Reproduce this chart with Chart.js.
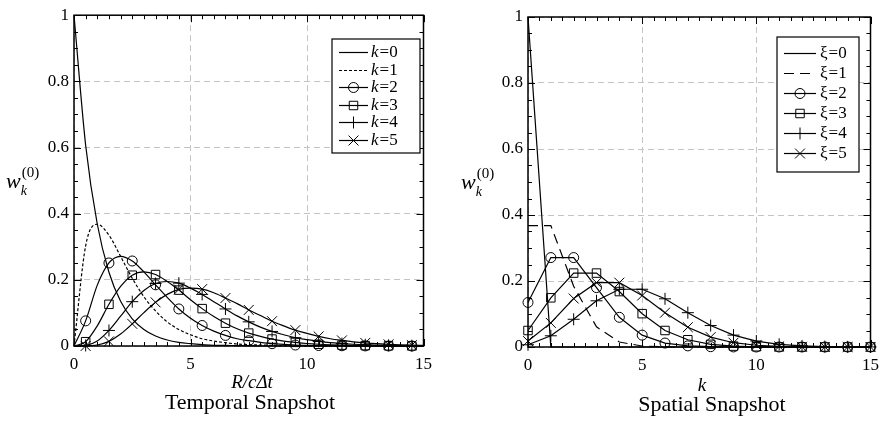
<!DOCTYPE html>
<html>
<head>
<meta charset="utf-8">
<script src="https://cdn.jsdelivr.net/npm/chart.js@4"></script>
<style>
html, body { margin: 0; padding: 0; background: #fff; }
#wrap { position: relative; width: 887px; height: 422px; }
#left { position: absolute; left: 0; top: 0; }
#right { position: absolute; left: 440px; top: 0; }
</style>
</head>
<body>
<div id="wrap">
  <canvas id="left" width="440" height="422"></canvas>
  <canvas id="right" width="447" height="422"></canvas>
</div>
<script>
// ---- Temporal snapshot: w_k vs R/c dt (step 0.5)
const tX = [0,0.5,1,1.5,2,2.5,3,3.5,4,4.5,5,5.5,6,6.5,7,7.5,8,8.5,9,9.5,10,10.5,11,11.5,12,12.5,13,13.5,14,14.5,15];
const tK0 = [1,0.607,0.368,0.223,0.135,0.082,0.050,0.030,0.018,0.011,0.007,0.004,0.002,0.002,0.001,0.001,0,0,0,0,0,0,0,0,0,0,0,0,0,0,0];
const tK1 = [0,0.303,0.368,0.335,0.271,0.205,0.149,0.106,0.073,0.050,0.034,0.022,0.015,0.010,0.006,0.004,0.003,0.002,0.001,0.001,0.0005,0,0,0,0,0,0,0,0,0,0];
const tK2 = [0,0.076,0.184,0.251,0.271,0.257,0.224,0.185,0.147,0.112,0.084,0.062,0.045,0.032,0.022,0.016,0.011,0.007,0.005,0.003,0.002,0.0015,0.001,0.0007,0.0004,0.0003,0.0002,0.0001,0,0,0];
const tK3 = [0,0.013,0.061,0.126,0.180,0.214,0.224,0.216,0.195,0.169,0.140,0.113,0.089,0.069,0.052,0.039,0.029,0.021,0.015,0.011,0.0076,0.0053,0.0037,0.0026,0.0018,0.0012,0.0008,0.0006,0.0004,0.0003,0.0002];
const tK4 = [0,0.0016,0.015,0.047,0.090,0.134,0.168,0.189,0.195,0.190,0.175,0.156,0.134,0.112,0.091,0.073,0.057,0.044,0.034,0.025,0.019,0.014,0.010,0.0074,0.0053,0.0038,0.0027,0.0019,0.0013,0.0009,0.0006];
const tK5 = [0,0.0002,0.003,0.014,0.036,0.067,0.101,0.132,0.156,0.171,0.175,0.172,0.161,0.145,0.128,0.109,0.092,0.075,0.061,0.048,0.038,0.029,0.022,0.017,0.0127,0.0095,0.0070,0.0051,0.0037,0.0027,0.0019];

// ---- Spatial snapshot: w_k vs k
const sK = [0,1,2,3,4,5,6,7,8,9,10,11,12,13,14,15];
const sXi0 = [1,0,0,0,0,0,0,0,0,0,0,0,0,0,0,0];
const sXi1 = [0.368,0.368,0.184,0.061,0.015,0.003,0.0005,0.0001,0,0,0,0,0,0,0,0];
const sXi2 = [0.135,0.271,0.271,0.180,0.090,0.036,0.012,0.0034,0.0009,0.0002,0,0,0,0,0,0];
const sXi3 = [0.050,0.149,0.224,0.224,0.168,0.101,0.050,0.022,0.008,0.0027,0.0008,0.0002,0.0001,0,0,0];
const sXi4 = [0.0067,0.034,0.084,0.140,0.175,0.175,0.146,0.104,0.065,0.036,0.018,0.0082,0.0034,0.0013,0.0005,0.0002];
const sXi5 = [0.018,0.073,0.147,0.195,0.195,0.156,0.104,0.060,0.030,0.013,0.0053,0.0019,0.0006,0.0002,0.0001,0];

const tLabels = ['0', '1', '2', '3', '4', '5'];
const sLabels = ['0', '1', '2', '3', '4', '5'];

const SERIF = "'Liberation Serif', 'Times New Roman', serif";
Chart.defaults.font.family = SERIF;
Chart.defaults.color = '#000';
const none = 'rgba(0,0,0,0)';

function series(label, xs, ys, extra) {
  return Object.assign({
    label: label,
    data: xs.map((x, i) => ({ x: x, y: ys[i] })),
    borderColor: '#000',
    borderWidth: 1.2,
    backgroundColor: none,
    pointBorderColor: '#000',
    pointBackgroundColor: none,
    pointBorderWidth: 1,
    pointRadius: 0,
    pointHoverRadius: 0,
    fill: false,
    clip: false
  }, extra);
}

// marker at half-integer positions only (temporal plot)
const halfOnly = r => ctx => (ctx.raw && Math.abs(ctx.raw.x % 1 - 0.5) < 1e-6) ? r : 0;

function drawMarker(ctx, style, r, x, y) {
  ctx.beginPath();
  if (style === 'circle') {
    ctx.arc(x, y, r, 0, Math.PI * 2);
  } else if (style === 'rect') {
    const s = r * Math.SQRT1_2;
    ctx.rect(x - s, y - s, 2 * s, 2 * s);
  } else if (style === 'cross') {
    ctx.moveTo(x - r, y); ctx.lineTo(x + r, y);
    ctx.moveTo(x, y - r); ctx.lineTo(x, y + r);
  } else if (style === 'crossRot') {
    const s = r * Math.SQRT1_2;
    ctx.moveTo(x - s, y - s); ctx.lineTo(x + s, y + s);
    ctx.moveTo(x - s, y + s); ctx.lineTo(x + s, y - s);
  }
  ctx.stroke();
}

const decor = {
  id: 'decor',
  afterDraw(chart, args, o) {
    const ctx = chart.ctx;
    const a = chart.chartArea;
    const xs = chart.scales.x, ys = chart.scales.y;
    ctx.save();

    // minor / major ticks pointing inward on all four sides
    ctx.strokeStyle = '#000';
    ctx.lineWidth = 1;
    ctx.beginPath();
    for (let i = 0; i <= 30; i++) {
      const v = i * 0.5;
      const px = Math.round(xs.getPixelForValue(v)) + 0.5;
      const L = (i % 10 === 0) ? 7 : 4;
      ctx.moveTo(px, a.bottom); ctx.lineTo(px, a.bottom - L);
      ctx.moveTo(px, a.top); ctx.lineTo(px, a.top + L);
    }
    for (let i = 0; i <= 20; i++) {
      const v = i * 0.05;
      const py = Math.round(ys.getPixelForValue(v)) + 0.5;
      const L = (i % 4 === 0) ? 7 : 4;
      ctx.moveTo(a.left, py); ctx.lineTo(a.left + L, py);
      ctx.moveTo(a.right, py); ctx.lineTo(a.right - L, py);
    }
    ctx.stroke();
    ctx.lineWidth = 1.5;
    ctx.strokeRect(a.left, a.top, a.right - a.left, a.bottom - a.top);

    // legend
    const lg = o.legend;
    ctx.fillStyle = '#fff';
    ctx.fillRect(lg.x, lg.y, lg.w, lg.h);
    ctx.lineWidth = 1.2;
    ctx.strokeRect(lg.x, lg.y, lg.w, lg.h);
    chart.data.datasets.forEach((ds, i) => {
      const y = Math.round(lg.y0 + i * lg.dy) + 0.5;
      ctx.strokeStyle = '#000';
      ctx.lineWidth = 1.2;
      ctx.setLineDash(ds.borderDash || []);
      ctx.beginPath();
      ctx.moveTo(lg.x0, y); ctx.lineTo(lg.x1, y);
      ctx.stroke();
      ctx.setLineDash([]);
      if (ds.pointStyle) {
        ctx.lineWidth = 1;
        drawMarker(ctx, ds.pointStyle, ds.legendR, (lg.x0 + lg.x1) / 2, y);
      }
      ctx.fillStyle = '#000';
      ctx.textBaseline = 'middle';
      ctx.textAlign = 'left';
      ctx.font = (o.symItalic ? 'italic ' : '') + '17px ' + SERIF;
      ctx.fillText(o.sym, lg.tx, y);
      const w = ctx.measureText(o.sym).width;
      ctx.font = '17px ' + SERIF;
      ctx.fillText('=' + o.rowLabels[i], lg.tx + w + 1, y);
    });

    // y title w_k^(0)
    ctx.fillStyle = '#000';
    ctx.textBaseline = 'alphabetic';
    ctx.textAlign = 'left';
    const yt = o.ytitle;
    ctx.font = 'italic 22px ' + SERIF;
    ctx.fillText('w', yt.x, yt.y);
    const ww = ctx.measureText('w').width;
    ctx.font = '15px ' + SERIF;
    ctx.fillText('(0)', yt.x + ww + 1, yt.y - 11);
    ctx.font = 'italic 14px ' + SERIF;
    ctx.fillText('k', yt.x + ww, yt.y + 7);

    // x title and caption
    ctx.textAlign = 'center';
    ctx.font = 'italic 19px ' + SERIF;
    ctx.fillText(o.xtitle.text, o.xtitle.x, o.xtitle.y);
    ctx.font = '22px ' + SERIF;
    ctx.fillText(o.caption.text, o.caption.x, o.caption.y);
    ctx.restore();
  }
};

function makeOptions(padTop, padRight, yWidth, xHeight, decorOpts) {
  return {
    responsive: false,
    animation: false,
    events: [],
    layout: { padding: { left: 0, top: padTop, right: padRight, bottom: 0 } },
    plugins: { legend: { display: false }, tooltip: { enabled: false }, decor: decorOpts },
    scales: {
      x: {
        type: 'linear', min: 0, max: 15,
        border: { display: false, dash: [6, 4] },
        grid: { color: '#c4c4c4', lineWidth: 1, drawTicks: false },
        ticks: { stepSize: 5, padding: 8, color: '#000', font: { family: SERIF, size: 17 } },
        afterFit: s => { s.height = xHeight; }
      },
      y: {
        type: 'linear', min: 0, max: 1,
        border: { display: false, dash: [6, 4] },
        grid: { color: '#c4c4c4', lineWidth: 1, drawTicks: false },
        ticks: { stepSize: 0.2, padding: 5, color: '#000', font: { family: SERIF, size: 17 },
                 callback: v => String(Math.round(v * 10) / 10) },
        afterFit: s => { s.width = yWidth; }
      }
    }
  };
}

const leftChart = new Chart(document.getElementById('left'), {
  type: 'line',
  data: {
    datasets: [
      series('k=0', tX, tK0, { cubicInterpolationMode: 'monotone' }),
      series('k=1', tX, tK1, { cubicInterpolationMode: 'monotone', borderDash: [3, 2] }),
      series('k=2', tX, tK2, { cubicInterpolationMode: 'monotone', pointStyle: 'circle', pointRadius: halfOnly(5), legendR: 5 }),
      series('k=3', tX, tK3, { cubicInterpolationMode: 'monotone', pointStyle: 'rect', pointRadius: halfOnly(6), legendR: 6 }),
      series('k=4', tX, tK4, { cubicInterpolationMode: 'monotone', pointStyle: 'cross', pointRadius: halfOnly(6), legendR: 6 }),
      series('k=5', tX, tK5, { cubicInterpolationMode: 'monotone', pointStyle: 'crossRot', pointRadius: halfOnly(7), legendR: 7 })
    ]
  },
  options: makeOptions(15, 10, 74, 76, {
    sym: 'k', symItalic: true, rowLabels: tLabels,
    legend: { x: 332, y: 39, w: 88, h: 114, y0: 52, dy: 17.6, x0: 339, x1: 368, tx: 371 },
    ytitle: { x: 6, y: 188 },
    xtitle: { text: 'R/cΔt', x: 252, y: 388 },
    caption: { text: 'Temporal Snapshot', x: 250, y: 409 }
  }),
  plugins: [decor]
});

const rightChart = new Chart(document.getElementById('right'), {
  type: 'line',
  data: {
    datasets: [
      series('ξ=0', sK, sXi0, {}),
      series('ξ=1', sK, sXi1, { borderDash: [10, 6] }),
      series('ξ=2', sK, sXi2, { pointStyle: 'circle', pointRadius: 5, legendR: 5 }),
      series('ξ=3', sK, sXi3, { pointStyle: 'rect', pointRadius: 6, legendR: 6 }),
      series('ξ=4', sK, sXi4, { pointStyle: 'cross', pointRadius: 6, legendR: 6 }),
      series('ξ=5', sK, sXi5, { pointStyle: 'crossRot', pointRadius: 7, legendR: 7 })
    ]
  },
  options: makeOptions(17, 10, 88, 75, {
    sym: 'ξ', symItalic: false, rowLabels: sLabels,
    legend: { x: 337, y: 37, w: 82, h: 135, y0: 53, dy: 20, x0: 344, x1: 376, tx: 380 },
    ytitle: { x: 21, y: 189 },
    xtitle: { text: 'k', x: 262, y: 391 },
    caption: { text: 'Spatial Snapshot', x: 272, y: 411 }
  }),
  plugins: [decor]
});
</script>
</body>
</html>
